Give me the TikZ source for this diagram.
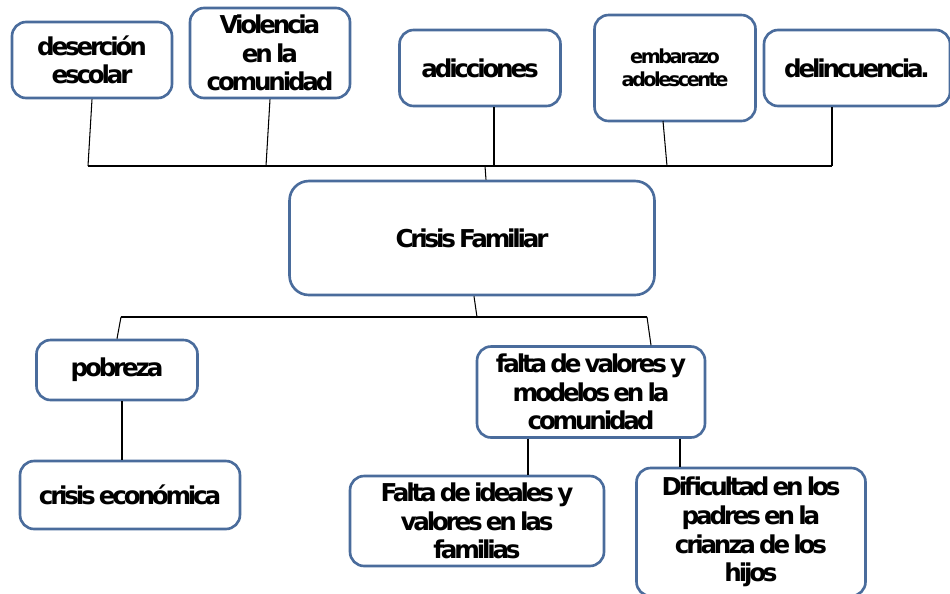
\documentclass[tikz,border=0pt]{standalone}
\usepackage{fontspec}
\setmainfont[LetterSpace=-13.0, WordSpace=0.6]{DejaVu Sans}
\definecolor{boxblue}{RGB}{74,108,156}
\tikzset{
  box/.style={draw=boxblue, line width=1.5pt, rounded corners=8pt, fill=white,
    align=center, inner sep=1pt, font=\bfseries\fontsize{14}{16.3}\selectfont},
  link/.style={draw=black, line width=0.6pt}
}
\begin{document}
\begin{tikzpicture}[x=0.02cm, y=-0.02cm]
  \useasboundingbox (0,0) rectangle (950,593);
  % effects
  \node[box, minimum width=3.2cm, minimum height=1.52cm] (desercion) at (92,60) {deserción\\escolar};
  \node[box, minimum width=3.2cm, minimum height=1.8cm] (violencia) at (270,53) {Violencia\\en la\\comunidad};
  \node[box, minimum width=3.22cm, minimum height=1.52cm] (adicciones) at (480,68) {adicciones};
  \node[box, minimum width=3.22cm, minimum height=2.12cm, font=\bfseries\fontsize{11}{13}\selectfont] (embarazo) at (675,68) {embarazo\\adolescente};
  \node[box, minimum width=3.72cm, minimum height=1.52cm] (delincuencia) at (857,68) {delincuencia.};
  % core problem
  \node[box, minimum width=7.3cm, minimum height=2.28cm, rounded corners=11pt] (crisis) at (472,238) {Crisis Familiar};
  % causes
  \node[box, minimum width=3.22cm, minimum height=1.2cm] (pobreza) at (117,370) {pobreza};
  \node[box, minimum width=4.4cm, minimum height=1.36cm] (economica) at (130,495) {crisis económica};
  \node[box, minimum width=4.56cm, minimum height=1.82cm] (falta) at (591,392) {falta de valores y\\modelos en la\\comunidad};
  \node[box, minimum width=5.08cm, minimum height=1.8cm] (ideales) at (477,521) {Falta de ideales y\\valores en las\\familias};
  \node[box, minimum width=4.58cm, minimum height=2.56cm] (dificultad) at (751,532) {Dificultad en los\\padres en la\\crianza de los\\hijos};

  % upper bus
  \coordinate (tb1) at (88,166);
  \coordinate (tb2) at (266,166);
  \coordinate (tb3) at (494,166);
  \coordinate (tb4) at (667,166);
  \coordinate (tb5) at (832,166);
  \coordinate (tbc) at (485,166);
  \draw[link] (tb1) -- (tb5);
  \draw[link] (desercion.south) -- (tb1);
  \draw[link] (violencia.south) -- (tb2);
  \draw[link] (adicciones.south -| tb3) -- (tb3);
  \draw[link] (663,121) -- (tb4);
  \draw[link] (delincuencia.south -| tb5) -- (tb5);
  \draw[link] (tbc) -- (crisis.north -| 486,0);

  % lower bus
  \coordinate (lb1) at (121,317);
  \coordinate (lb2) at (647,317);
  \draw[link] (crisis.south -| 474,0) -- (477,317);
  \draw[link] (lb1) -- (lb2);
  \draw[link] (lb1) -- (pobreza.north);
  \draw[link] (lb2) -- (falta.north -| 651,0);
  \draw[link] (pobreza.south -| 122,0) -- (economica.north -| 122,0);
  \draw[link] (falta.south -| 528,0) -- (ideales.north -| 528,0);
  \draw[link] (falta.south -| 680,0) -- (dificultad.north -| 680,0);
\end{tikzpicture}
\end{document}
